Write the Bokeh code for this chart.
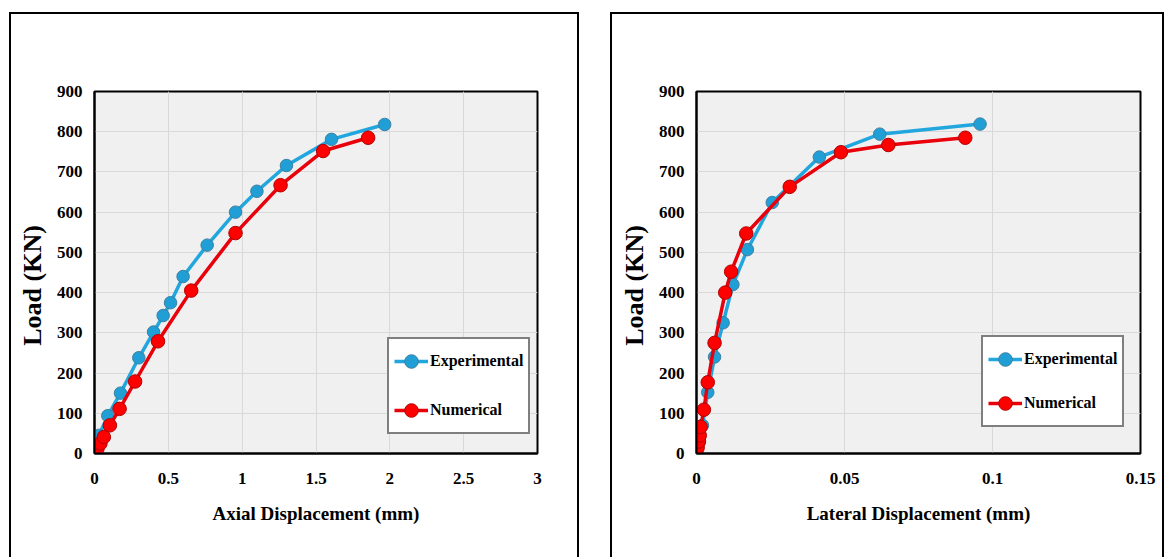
from bokeh.plotting import figure
from bokeh.layouts import row
from bokeh.models import Range1d, FixedTicker
from bokeh.embed import file_html
from bokeh.resources import INLINE

# Load (KN) versus displacement (mm)
axial_exp_x = [0, 0.03, 0.09, 0.176, 0.30, 0.40, 0.465, 0.515, 0.60, 0.763, 0.955, 1.10, 1.30, 1.605, 1.965]
axial_exp_y = [0, 45, 94, 150, 238, 302, 343, 375, 440, 518, 600, 652, 716, 781, 818]
axial_num_x = [0, 0.02, 0.04, 0.063, 0.104, 0.17, 0.275, 0.43, 0.655, 0.955, 1.26, 1.548, 1.853]
axial_num_y = [0, 12, 25, 41, 70, 111, 179, 279, 405, 548, 667, 752, 785]

lateral_exp_x = [0, 0.001, 0.002, 0.0038, 0.0061, 0.0090, 0.0123, 0.0172, 0.0256, 0.0415, 0.0619, 0.0958]
lateral_exp_y = [0, 30, 70, 152, 240, 325, 420, 507, 624, 737, 794, 819]
lateral_num_x = [0, 0.0004, 0.0008, 0.0011, 0.0014, 0.0025, 0.0038, 0.0061, 0.0097, 0.0117, 0.0168, 0.0315, 0.0488, 0.0648, 0.0908]
lateral_num_y = [0, 15, 30, 45, 66, 109, 177, 275, 400, 452, 547, 663, 749, 767, 785]

axial_ticks = [0, 0.5, 1, 1.5, 2, 2.5, 3]
axial_tick_labels = ["0", "0.5", "1", "1.5", "2", "2.5", "3"]
lateral_ticks = [0, 0.05, 0.1, 0.15]
lateral_tick_labels = ["0", "0.05", "0.1", "0.15"]
load_ticks = [0, 100, 200, 300, 400, 500, 600, 700, 800, 900]

FONT = "Liberation Serif"
BLUE_LINE = "#22a6de"
BLUE_FILL = "#1f9fd6"
BLUE_EDGE = "#3f7fa0"
RED_LINE = "#e8000b"
RED_FILL = "#ff0000"
RED_EDGE = "#b00000"
NBSP = "\u00a0"


def panel(ex, ey, nx, ny, xmax, ticks, tick_labels, xlabel, width, mbl, mbr, mbb,
          legend_xy, legend_spacing, margin):
    p = figure(width=width, height=545, x_range=Range1d(0, xmax), y_range=Range1d(0, 900),
               output_backend="svg", toolbar_location=None,
               min_border_left=mbl, min_border_right=mbr, min_border_top=77,
               min_border_bottom=mbb, background_fill_color="#f0f0f0",
               border_fill_color="white", outline_line_color="black",
               outline_line_width=2, margin=margin,
               styles={"border-top": "2px solid black", "border-left": "2px solid black",
                       "border-right": "2px solid black"})

    p.line(ex, ey, line_color=BLUE_LINE, line_width=3.5, legend_label="Experimental")
    p.scatter(ex, ey, size=12.5, fill_color=BLUE_FILL, line_color=BLUE_EDGE, line_width=1,
              legend_label="Experimental")
    p.line(nx, ny, line_color=RED_LINE, line_width=3.5, legend_label="Numerical")
    p.scatter(nx, ny, size=13.5, fill_color=RED_FILL, line_color=RED_EDGE, line_width=1,
              legend_label="Numerical")

    p.xaxis.ticker = FixedTicker(ticks=ticks)
    p.xaxis.major_label_overrides = {t: s for t, s in zip(ticks, tick_labels)}
    p.yaxis.ticker = FixedTicker(ticks=load_ticks)
    p.xaxis.axis_label = xlabel
    # trailing no-break spaces lower the title a little along the axis
    p.yaxis.axis_label = "Load (KN)" + NBSP * 4

    for ax in (p.xaxis, p.yaxis):
        ax.axis_line_color = "black"
        ax.axis_line_width = 2
        ax.major_tick_out = 0
        ax.major_tick_in = 0
        ax.minor_tick_out = 0
        ax.minor_tick_in = 0
        ax.major_label_text_font = FONT
        ax.major_label_text_font_style = "bold"
        ax.major_label_text_font_size = "17px"
        ax.major_label_text_color = "black"
        ax.axis_label_text_font = FONT
        ax.axis_label_text_font_style = "bold"
        ax.axis_label_text_color = "black"
    p.xaxis.major_label_standoff = 19
    p.yaxis.major_label_standoff = 12
    p.xaxis.axis_label_text_font_size = "19px"
    p.yaxis.axis_label_text_font_size = "26px"
    p.xaxis.axis_label_standoff = 16
    p.yaxis.axis_label_standoff = 7

    p.xgrid.grid_line_color = "#d9d9d9"
    p.ygrid.grid_line_color = "#d9d9d9"
    p.xgrid.grid_line_width = 1
    p.ygrid.grid_line_width = 1

    lg = p.legend[0]
    lg.location = legend_xy
    lg.border_line_color = "black"
    lg.border_line_width = 2
    lg.background_fill_color = "white"
    lg.background_fill_alpha = 1
    lg.label_text_font = FONT
    lg.label_text_font_style = "bold"
    lg.label_text_font_size = "16px"
    lg.label_text_color = "black"
    lg.glyph_width = 34
    lg.glyph_height = 34
    lg.label_height = 34
    lg.label_standoff = 2
    lg.padding = 5
    lg.spacing = legend_spacing
    lg.margin = 0
    return p


left = panel(axial_exp_x, axial_exp_y, axial_num_x, axial_num_y, 3, axial_ticks,
             axial_tick_labels, "Axial Displacement (mm)", 570, 83, 44, 106,
             (293, 19), 15, (12, 0, 0, 9))
right = panel(lateral_exp_x, lateral_exp_y, lateral_num_x, lateral_num_y, 0.15, lateral_ticks,
              lateral_tick_labels, "Lateral Displacement (mm)", 554, 84, 26, 98,
              (285, 26), 10, (12, 0, 0, 31))

layout = row(left, right, margin=0, spacing=0)

with open("out.html", "w") as f:
    f.write(file_html(layout, INLINE))
